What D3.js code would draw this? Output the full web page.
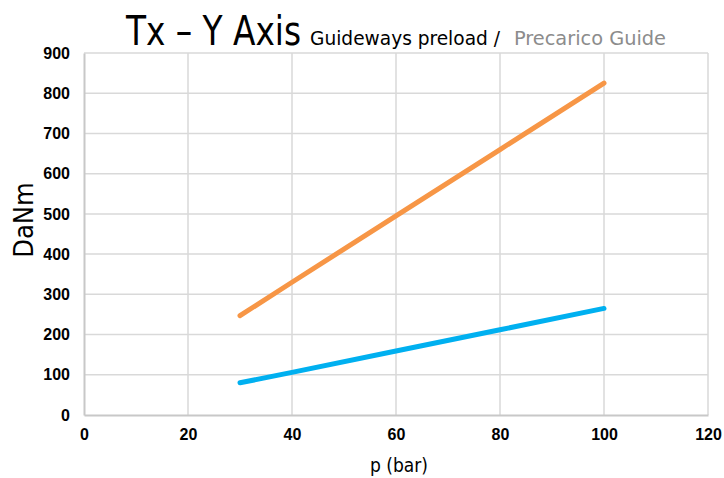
<!DOCTYPE html>
<html><head><meta charset="utf-8">
<script src="https://cdn.jsdelivr.net/npm/d3@7"></script>
<style>body{margin:0;background:#fff}svg{display:block}</style>
</head><body><div id="chart"></div>
<script>
const pressure = [30, 40, 60, 80, 100];
const seriesOrange = [247, 330, 495, 660, 825];
const seriesBlue = [80, 106, 159, 212, 265];
const xTicks = [0, 20, 40, 60, 80, 100, 120];
const yTicks = [0, 100, 200, 300, 400, 500, 600, 700, 800, 900];

const W = 724, H = 478;
const m = {left: 84, right: 16, top: 53, bottom: 63};
const svg = d3.select("#chart").append("svg").attr("width", W).attr("height", H);

const x = d3.scaleLinear().domain([0, 120]).range([m.left, W - m.right]);
const y = d3.scaleLinear().domain([0, 900]).range([H - m.bottom, m.top]);

// gridlines
svg.append("g").selectAll("line").data(yTicks.filter(d => d > 0)).join("line")
  .attr("x1", x(0)).attr("x2", x(120)).attr("y1", d => y(d)).attr("y2", d => y(d))
  .attr("stroke", "#d9d9d9").attr("stroke-width", 1.5);
svg.append("g").selectAll("line").data(xTicks.filter(d => d > 0)).join("line")
  .attr("y1", y(0)).attr("y2", y(900)).attr("x1", d => x(d)).attr("x2", d => x(d))
  .attr("stroke", "#d9d9d9").attr("stroke-width", 1.5);

// axes
const xAxis = svg.append("g").attr("transform", `translate(0,${y(0)})`)
  .call(d3.axisBottom(x).tickValues(xTicks).tickSize(0).tickPadding(14));
const yAxis = svg.append("g").attr("transform", `translate(${x(0)},0)`)
  .call(d3.axisLeft(y).tickValues(yTicks).tickSize(0).tickPadding(14));
[xAxis, yAxis].forEach(a => {
  a.select(".domain").attr("stroke", "#c8c8c8").attr("stroke-width", 2);
  a.selectAll("text").attr("font-family", "Liberation Sans, Arial, sans-serif")
    .attr("font-weight", "bold").attr("font-size", 16).attr("fill", "#000");
});

// lines
const line = d3.line().x((d, i) => x(pressure[i])).y(d => y(d));
[[seriesOrange, "#f79646"], [seriesBlue, "#00b0f0"]].forEach(([s, c]) => {
  svg.append("path").datum(s).attr("d", line).attr("fill", "none")
    .attr("stroke", c).attr("stroke-width", 5).attr("stroke-linecap", "round");
});

// title
const tf = "DejaVu Sans Condensed, DejaVu Sans, sans-serif";
svg.append("text").attr("x", 126).attr("y", 45).attr("font-family", tf)
  .attr("font-size", 40).attr("textLength", 175).attr("lengthAdjust", "spacingAndGlyphs")
  .attr("fill", "#000").text("Tx – Y Axis");
svg.append("text").attr("x", 310).attr("y", 45).attr("font-family", tf)
  .attr("font-size", 19).attr("textLength", 190).attr("lengthAdjust", "spacingAndGlyphs")
  .attr("fill", "#000").text("Guideways preload /");
svg.append("text").attr("x", 514).attr("y", 45).attr("font-family", tf)
  .attr("font-size", 19).attr("textLength", 152).attr("lengthAdjust", "spacingAndGlyphs")
  .attr("fill", "#8c8c8c").text("Precarico Guide");

// axis titles
svg.append("text").attr("transform", "translate(33,220) rotate(-90)")
  .attr("text-anchor", "middle").attr("font-family", tf).attr("font-size", 27)
  .attr("fill", "#000").text("DaNm");
svg.append("text").attr("x", 399).attr("y", 472).attr("text-anchor", "middle")
  .attr("font-family", tf).attr("font-size", 19).attr("fill", "#000").text("p (bar)");
</script></body></html>
